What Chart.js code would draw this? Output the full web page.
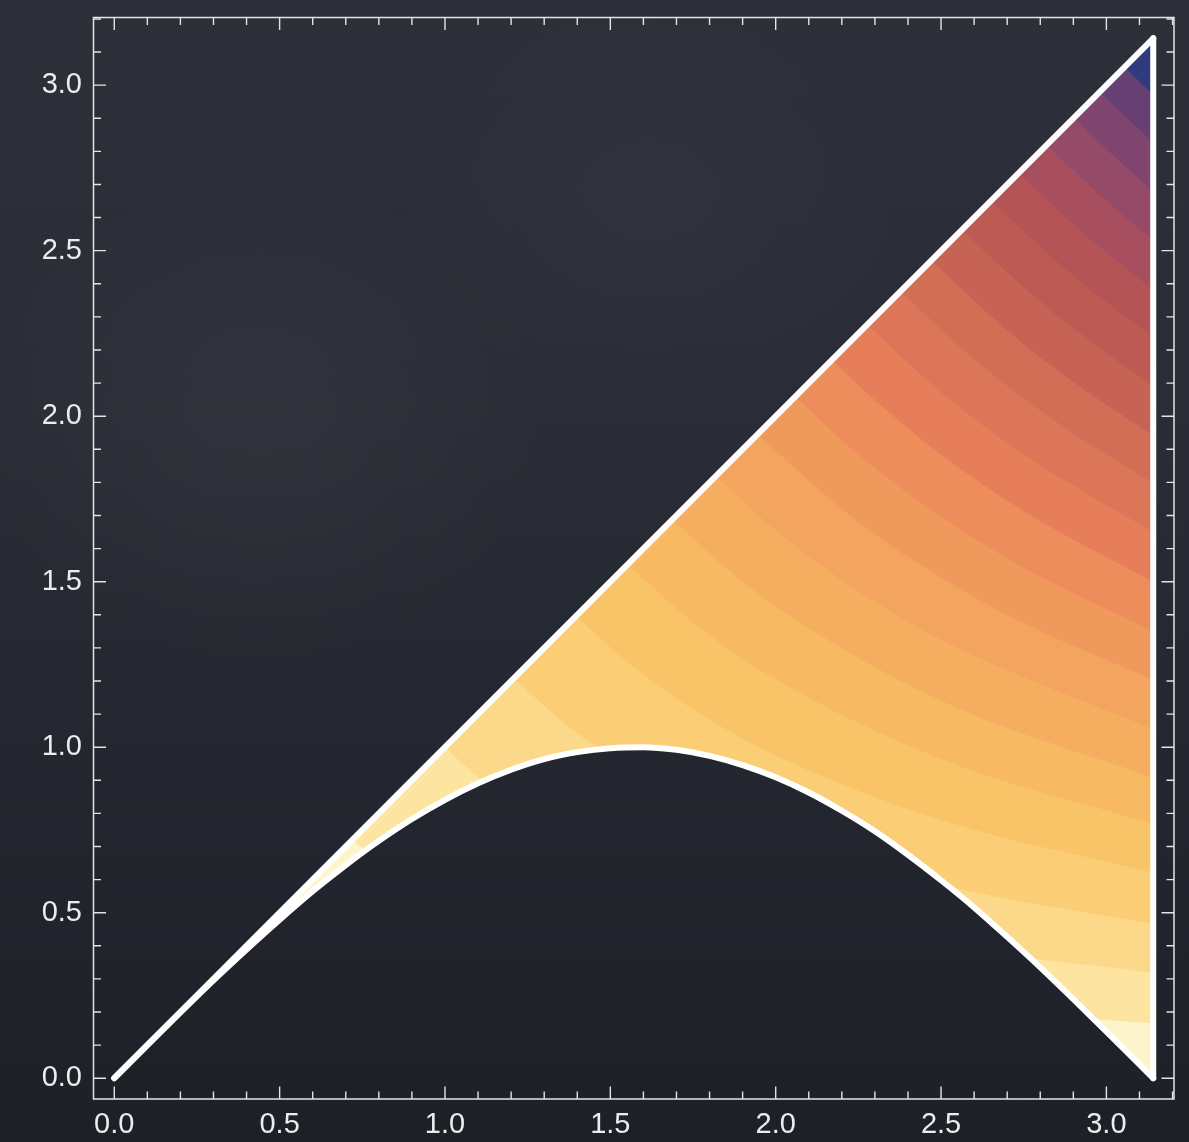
<!DOCTYPE html>
<html>
<head>
<meta charset="utf-8">
<script src="https://cdn.jsdelivr.net/npm/chart.js@4.4.1/dist/chart.umd.min.js"></script>
<style>
  html, body { margin: 0; padding: 0; background: #262932; }
  #wrap {
    position: relative; width: 1189px; height: 1142px; overflow: hidden;
    background:
      radial-gradient(ellipse 420px 360px at 260px 420px, rgba(255,255,255,0.035), rgba(255,255,255,0) 70%),
      radial-gradient(ellipse 380px 300px at 650px 200px, rgba(255,255,255,0.025), rgba(255,255,255,0) 70%),
      linear-gradient(180deg, #2d3039 0%, #2a2d36 35%, #24262f 70%, #1e2028 100%);
  }
  canvas { display: block; }
</style>
</head>
<body>
<div id="wrap"><canvas id="c" width="1189" height="1142"></canvas></div>
<script>
// ---------------- data ----------------
// contour levels of the shaded field (boundaries between colour bands)
const levels = [0.52, 1.0, 1.46, 1.95, 2.41, 2.85, 3.31, 3.78, 4.24, 4.71,
                5.18, 5.65, 6.1, 6.57, 7.03, 7.48, 7.95, 8.42, 8.88, 9.33];

// band colours, lowest band first
const bandColors = ['#fef4cb', '#fde4a1', '#fcd98a', '#fbce76', '#f9c467', '#f7b962',
                    '#f5ae60', '#f3a45f', '#f0995d', '#ed8d5b', '#e67f59', '#dc7658',
                    '#d26d56', '#c76355', '#bd5a53', '#b45456', '#a74f5e', '#954a68',
                    '#7f456f', '#664074', '#2f3a7f'];

// lower white boundary curve
const sinX = [0, 0.1, 0.2, 0.3, 0.4, 0.5, 0.6, 0.7, 0.8, 0.9, 1.0, 1.1, 1.2, 1.3, 1.4, 1.5,
              1.6, 1.7, 1.8, 1.9, 2.0, 2.1, 2.2, 2.3, 2.4, 2.5, 2.6, 2.7, 2.8, 2.9, 3.0, 3.1, 3.1416];
const sinY = [0, 0.100, 0.199, 0.296, 0.389, 0.479, 0.565, 0.644, 0.717, 0.783, 0.841, 0.891,
              0.932, 0.964, 0.985, 0.997, 1.000, 0.992, 0.974, 0.946, 0.909, 0.863, 0.808,
              0.746, 0.675, 0.598, 0.516, 0.427, 0.335, 0.239, 0.141, 0.042, 0];

// upper (diagonal) and right white boundaries
const diagX = [0, 3.1416], diagY = [0, 3.1416];
const edgeX = [3.1416, 3.1416], edgeY = [0, 3.1416];

// contour boundary curves, one per level (points read along each band edge)
const contourBoundaries = [
  [[0.721,0.721],[0.8,0.65],[0.9,0.578],[1.0,0.52],[1.25,0.416],[1.5,0.347],[2.0,0.26],[2.5,0.208],[3.1416,0.166]],
  [[1.0,1.0],[1.1,0.909],[1.25,0.8],[1.5,0.667],[2.0,0.5],[2.5,0.4],[3.1416,0.318]],
  [[1.208,1.208],[1.35,1.081],[1.5,0.973],[1.75,0.834],[2.0,0.73],[2.5,0.584],[3.1416,0.465]],
  [[1.396,1.396],[1.55,1.258],[1.75,1.114],[2.0,0.975],[2.5,0.78],[3.1416,0.621]],
  [[1.552,1.552],[1.75,1.377],[2.0,1.205],[2.5,0.964],[3.1416,0.767]],
  [[1.688,1.688],[1.85,1.541],[2.0,1.425],[2.5,1.14],[3.1416,0.907]],
  [[1.819,1.819],[2.0,1.655],[2.25,1.471],[2.5,1.324],[3.1416,1.054]],
  [[1.944,1.944],[2.25,1.68],[2.5,1.512],[2.75,1.375],[3.1416,1.203]],
  [[2.059,2.059],[2.25,1.884],[2.5,1.696],[2.75,1.542],[3.1416,1.35]],
  [[2.17,2.17],[2.3,2.048],[2.5,1.884],[2.75,1.713],[3.1416,1.499]],
  [[2.276,2.276],[2.5,2.072],[2.75,1.884],[3.1416,1.649]],
  [[2.377,2.377],[2.6,2.173],[2.85,1.982],[3.1416,1.798]],
  [[2.47,2.47],[2.7,2.259],[2.9,2.103],[3.1416,1.942]],
  [[2.563,2.563],[2.75,2.389],[2.95,2.227],[3.1416,2.091]],
  [[2.651,2.651],[2.9,2.424],[3.1416,2.238]],
  [[2.735,2.735],[2.95,2.536],[3.1416,2.381]],
  [[2.82,2.82],[3.0,2.65],[3.1416,2.531]],
  [[2.902,2.902],[3.02,2.788],[3.1416,2.68]],
  [[2.98,2.98],[3.06,2.902],[3.1416,2.827]],
  [[3.055,3.055],[3.1416,2.97]]
];

// axes
const axisMin = -0.0628, axisMax = 3.2044;
const majorTickValues = [0, 0.5, 1.0, 1.5, 2.0, 2.5, 3.0];
const tickLabels = ['0.0', '0.5', '1.0', '1.5', '2.0', '2.5', '3.0'];
const minorTickValues = [0, 0.1, 0.2, 0.3, 0.4, 0.5, 0.6, 0.7, 0.8, 0.9, 1.0, 1.1, 1.2, 1.3, 1.4, 1.5, 1.6,
                         1.7, 1.8, 1.9, 2.0, 2.1, 2.2, 2.3, 2.4, 2.5, 2.6, 2.7, 2.8, 2.9, 3.0, 3.1, 3.2];

// ---------------- chart ----------------
const pts = (xs, ys) => xs.map((v, i) => ({ x: v, y: ys[i] }));
const clear = 'rgba(0,0,0,0)';
const white = '#ffffff';
const datasets = [];

// white boundary lines (drawn on top)
datasets.push({ data: pts(sinX, sinY), boundary: true, order: 0, borderColor: white, borderWidth: 6,
  borderCapStyle: 'round', borderJoinStyle: 'round', pointRadius: 0, fill: false, cubicInterpolationMode: 'monotone' });
datasets.push({ data: pts(diagX, diagY), boundary: true, order: 1, borderColor: white, borderWidth: 6,
  borderCapStyle: 'round', pointRadius: 0, fill: false });
datasets.push({ data: pts(edgeX, edgeY), boundary: true, order: 2, borderColor: white, borderWidth: 6,
  borderCapStyle: 'round', pointRadius: 0, fill: false });

// lowest band: whole region
datasets.push({ data: pts(sinX, sinY), order: 300, backgroundColor: bandColors[0], borderColor: clear,
  borderWidth: 0, pointRadius: 0, fill: 'end', cubicInterpolationMode: 'monotone' });
// each higher band painted above its lower boundary
contourBoundaries.forEach((curve, k) => {
  datasets.push({ data: curve.map(p => ({ x: p[0], y: p[1] })), level: levels[k], order: 299 - k,
    backgroundColor: bandColors[k + 1], borderColor: clear, borderWidth: 0, pointRadius: 0,
    fill: 'end', cubicInterpolationMode: 'monotone' });
});

// clip the bands to the region between the white boundaries
const regionClip = {
  id: 'regionClip',
  beforeDatasetsDraw(chart) {
    const { ctx, scales: { x, y } } = chart;
    ctx.save();
    ctx.beginPath();
    ctx.moveTo(x.getPixelForValue(diagX[0]), y.getPixelForValue(diagY[0]));
    ctx.lineTo(x.getPixelForValue(diagX[1]), y.getPixelForValue(diagY[1]));
    ctx.lineTo(x.getPixelForValue(edgeX[0]), y.getPixelForValue(edgeY[0]));
    for (let i = sinX.length - 1; i >= 0; i--) {
      ctx.lineTo(x.getPixelForValue(sinX[i]), y.getPixelForValue(sinY[i]));
    }
    ctx.closePath();
    ctx.clip();
    chart.$clipOn = true;
  },
  beforeDatasetDraw(chart, args) {
    if (chart.$clipOn && chart.data.datasets[args.index].boundary) {
      chart.ctx.restore();
      chart.$clipOn = false;
    }
  },
  afterDatasetsDraw(chart) {
    if (chart.$clipOn) { chart.ctx.restore(); chart.$clipOn = false; }
  }
};

// frame with inward ticks on all sides
const frameColor = '#e4e4e4';
const frame = {
  id: 'frame',
  afterDraw(chart) {
    const { ctx, chartArea: a, scales: { x, y } } = chart;
    ctx.save();
    ctx.strokeStyle = frameColor;
    ctx.lineWidth = 1.5;
    ctx.strokeRect(a.left, a.top, a.right - a.left, a.bottom - a.top);
    ctx.lineWidth = 1.4;
    ctx.beginPath();
    for (const v of minorTickValues) {
      const major = majorTickValues.some(m => Math.abs(m - v) < 1e-6);
      const L = major ? 12.5 : 7.5;
      const px = x.getPixelForValue(v);
      ctx.moveTo(px, a.bottom); ctx.lineTo(px, a.bottom - L);
      ctx.moveTo(px, a.top); ctx.lineTo(px, a.top + L);
      const py = y.getPixelForValue(v);
      ctx.moveTo(a.left, py); ctx.lineTo(a.left + L, py);
      ctx.moveTo(a.right, py); ctx.lineTo(a.right - L, py);
    }
    ctx.stroke();
    ctx.restore();
  }
};

const tickFont = { family: "'Liberation Sans', Arial, Helvetica, sans-serif", size: 29 };
const labelColor = '#ececec';
const setMajor = s => { s.ticks = majorTickValues.map(v => ({ value: v })); };
const labelCb = (v, i) => tickLabels[i];

new Chart(document.getElementById('c'), {
  type: 'line',
  data: { datasets },
  options: {
    responsive: false,
    devicePixelRatio: 1,
    animation: false,
    events: [],
    parsing: true,
    layout: { padding: { top: 17.5, right: 15, bottom: 0, left: 0 } },
    plugins: { legend: { display: false }, tooltip: { enabled: false } },
    scales: {
      x: {
        type: 'linear', min: axisMin, max: axisMax,
        grid: { display: false, drawTicks: false }, border: { display: false },
        ticks: { color: labelColor, font: tickFont, padding: 9, maxRotation: 0, autoSkip: false, callback: labelCb },
        afterBuildTicks: setMajor,
        afterFit: s => { s.height = 43; s.paddingLeft = 0; s.paddingRight = 0; s.paddingTop = 0; s.paddingBottom = 0; }
      },
      y: {
        type: 'linear', min: axisMin, max: axisMax,
        grid: { display: false, drawTicks: false }, border: { display: false },
        ticks: { color: labelColor, font: tickFont, padding: 11.5, autoSkip: false, callback: labelCb },
        afterBuildTicks: setMajor,
        afterFit: s => { s.width = 93.5; s.paddingLeft = 0; s.paddingRight = 0; s.paddingTop = 0; s.paddingBottom = 0; }
      }
    }
  },
  plugins: [regionClip, frame]
});
</script>
</body>
</html>
